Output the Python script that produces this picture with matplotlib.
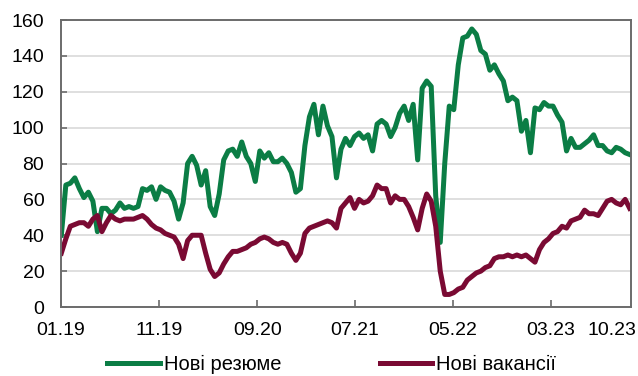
import pandas as pd
import matplotlib
matplotlib.use('Agg')
import matplotlib.pyplot as plt

plt.rcParams['font.family'] = ['Liberation Sans', 'DejaVu Sans']

# fortnightly readings, Jan 2019 - Nov 2023
start_date = '2019-01-02'
new_cvs = [40, 68, 69, 72, 66, 61, 64, 59, 42, 55,
           55, 52, 54, 58, 55, 56, 55, 56, 66, 65,
           67, 60, 67, 65, 64, 59, 49, 58, 80, 84,
           79, 68, 76, 56, 51, 63, 82, 87, 88, 84,
           92, 84, 80, 70, 87, 83, 86, 81, 81, 83,
           80, 75, 64, 66, 90, 106, 113, 96, 112, 101,
           95, 72, 88, 94, 90, 95, 97, 94, 96, 87,
           102, 104, 102, 95, 100, 108, 112, 104, 113, 82,
           122, 126, 123, 62, 36, 80, 112, 110, 135, 150,
           151, 155, 152, 143, 141, 132, 135, 130, 126, 115,
           117, 115, 98, 104, 86, 111, 110, 114, 112, 112,
           107, 103, 87, 94, 89, 89, 91, 93, 96, 90,
           90, 87, 86, 89, 88, 86, 85]
new_vacancies = [30, 38, 45, 46, 47, 47, 45, 49, 51, 42,
                 47, 51, 49, 48, 49, 49, 49, 50, 51, 49,
                 46, 44, 43, 41, 40, 39, 35, 27, 37, 40,
                 40, 40, 30, 21, 17, 19, 24, 28, 31, 31,
                 32, 33, 35, 36, 38, 39, 38, 36, 35, 36,
                 35, 30, 26, 30, 41, 44, 45, 46, 47, 48,
                 47, 44, 55, 58, 61, 55, 60, 58, 59, 62,
                 68, 66, 66, 58, 62, 60, 60, 56, 50, 43,
                 55, 63, 59, 45, 20, 7, 7, 8, 10, 11,
                 15, 17, 19, 20, 22, 23, 27, 28, 28, 29,
                 28, 29, 28, 29, 27, 25, 32, 36, 38, 41,
                 42, 45, 44, 48, 49, 50, 54, 52, 52, 51,
                 55, 59, 60, 58, 57, 60, 55]

tick_dates = ['2019-01-01', '2019-11-01', '2020-09-01', '2021-07-01',
              '2022-05-01', '2023-03-01']
tick_labels = ['01.19', '11.19', '09.20', '07.21', '05.22', '03.23']
last_label = '10.23'

dates = pd.date_range(start_date, periods=len(new_cvs), freq='14D')

green = '#0B7D45'
maroon = '#7A0A33'

fig = plt.figure(figsize=(6.38, 3.76), dpi=100, facecolor='white')
ax = fig.add_axes([0.0956, 0.1835, 0.8934, 0.7633])

ax.plot(dates, new_cvs, color=green, lw=3.6, solid_joinstyle='round', label='Нові резюме')
ax.plot(dates, new_vacancies, color=maroon, lw=3.6, solid_joinstyle='round', label='Нові вакансії')

ax.set_ylim(0, 160)
ax.set_yticks(range(0, 161, 20))
ax.set_xlim(pd.Timestamp('2019-01-01'), pd.Timestamp('2023-11-05'))
ax.set_xticks(pd.to_datetime(tick_dates))
ax.set_xticklabels(tick_labels)
ax.set_xticks([pd.Timestamp('2023-09-07')], minor=True)
ax.set_xticklabels([last_label], minor=True)

ax.yaxis.grid(True, color='#d9d9d9', lw=1.2)
ax.set_axisbelow(True)

for s in ax.spines.values():
    s.set_color('#6b6b6b')
    s.set_linewidth(1.4)

ax.tick_params(axis='both', which='major', direction='in', length=5, width=1.2,
               color='#6b6b6b', labelsize=14, labelcolor='black')
ax.tick_params(axis='x', which='major', pad=11)
ax.tick_params(axis='y', which='major', pad=12, length=4)
ax.tick_params(axis='x', which='minor', length=0, pad=11, labelsize=14)

fig.legend(loc='center', bbox_to_anchor=(0.52, 0.03), ncol=2, frameon=False,
           handlelength=2.6, handletextpad=0.2, columnspacing=4.9, fontsize=14.5)

plt.savefig('out.png', dpi=100)
